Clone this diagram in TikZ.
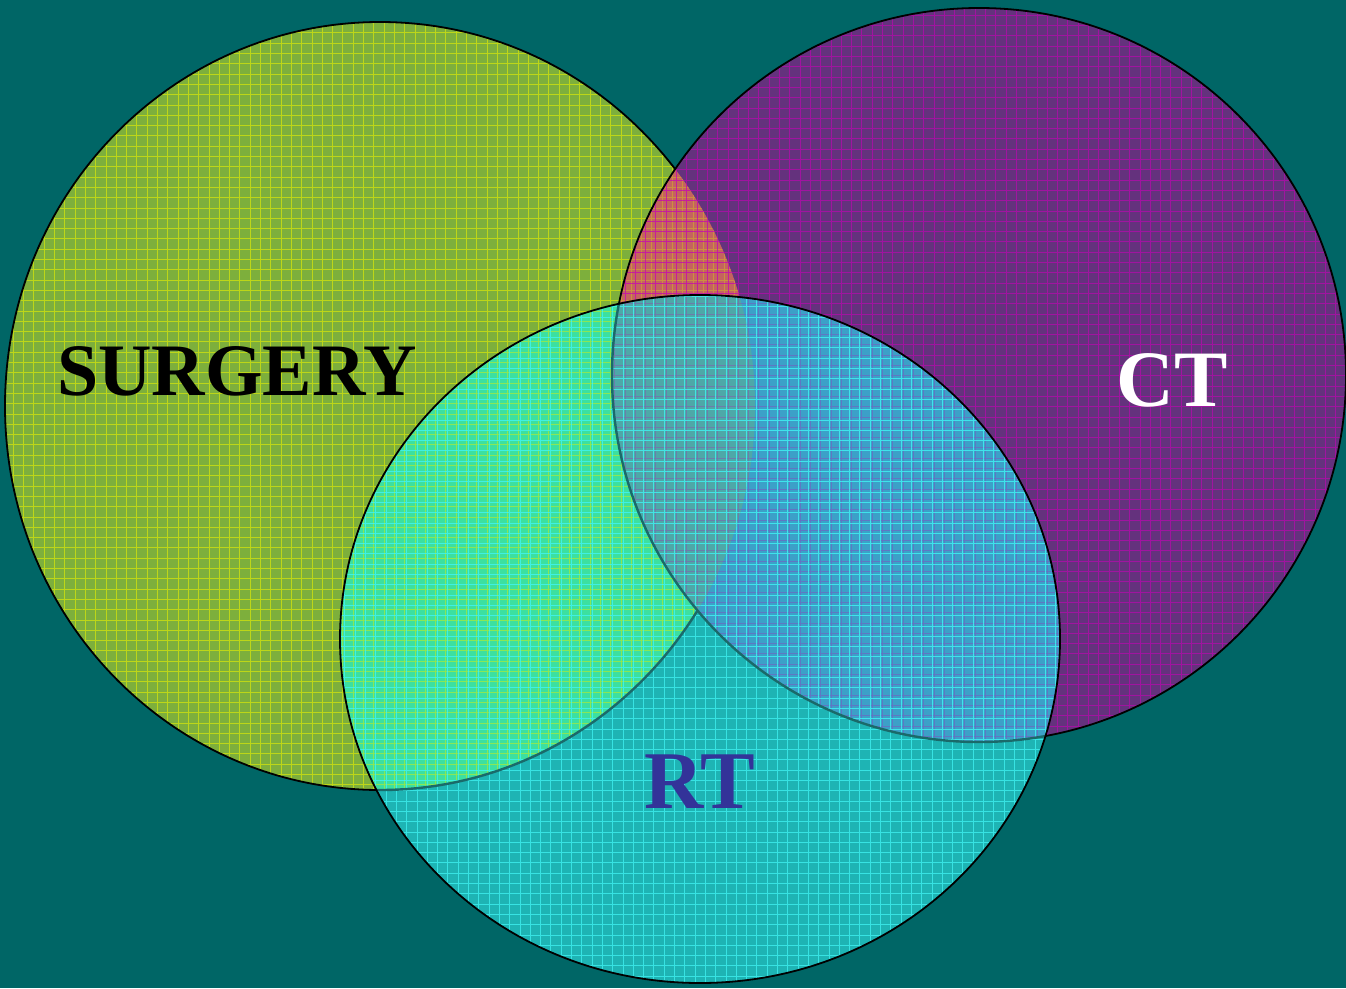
\documentclass[tikz,border=0pt]{standalone}
\usepackage{fontspec}
\setmainfont{Liberation Serif}[BoldFont={Liberation Serif Bold}]
\definecolor{bg}{HTML}{006666}
\definecolor{Sc}{HTML}{7DAF3C}
\definecolor{Sg}{HTML}{E8F000}
\definecolor{Cc}{HTML}{64327D}
\definecolor{Cg}{HTML}{C800B8}
\definecolor{Rc}{HTML}{1EB4B4}
\definecolor{Rg}{HTML}{40F4F4}
\definecolor{SCc}{HTML}{C4645E}
\definecolor{SRc}{HTML}{3CE0A0}
\definecolor{CRc}{HTML}{3CA0C8}
\definecolor{SCRc}{HTML}{4EA8A8}
\definecolor{fb}{HTML}{1A6A6A}
\definecolor{RTtext}{HTML}{333399}
\newcommand\mygrid[4][0.8]{\draw[#2, line width=1pt, opacity=#1, xstep=10.3pt, ystep=10.3pt, shift={(#3,#4)}] (-20,-20) grid (1366,1008);}
\tikzset{
  bord/.style={draw=black, line width=1.8pt},
  fbord/.style={draw=fb, line width=2.4pt},
  lbl/.style={anchor=base, inner sep=0pt}
}
\begin{document}
\begin{tikzpicture}[x=1pt,y=-1pt]
\useasboundingbox (0,0) rectangle (1346,988);
\fill[bg] (0,0) rectangle (1346,988);
% SURGERY circle
\fill[Sc] (380,406) ellipse [x radius=375, y radius=384];
\begin{scope}
  \clip (380,406) ellipse [x radius=375, y radius=384];
  \mygrid[0.6]{Sg}{3}{2}
\end{scope}
\draw[bord] (380,406) ellipse [x radius=375, y radius=384];
% CT circle
\begin{scope}
  \clip (979,375) ellipse [x radius=367, y radius=367];
  \fill[Cc] (0,0) rectangle (1346,988);
  \mygrid[0.6]{Cg}{7}{5}
  \begin{scope}
    \clip (380,406) ellipse [x radius=375, y radius=384];
    \fill[SCc] (0,0) rectangle (1346,988);
    \mygrid[0.3]{Sg}{3}{2}
    \mygrid[0.7]{Cg}{7}{5}
  \end{scope}
\end{scope}
\draw[bord] (979,375) ellipse [x radius=367, y radius=367];
% RT circle
\begin{scope}
  \clip (700,639) ellipse [x radius=360, y radius=344];
  \fill[Rc] (0,0) rectangle (1346,988);
  \mygrid[0.75]{Rg}{5}{8}
  \begin{scope}
    \clip (380,406) ellipse [x radius=375, y radius=384];
    \fill[SRc] (0,0) rectangle (1346,988);
    \mygrid[0.45]{Sg}{3}{2}
    \mygrid[0.8]{Rg}{5}{8}
  \end{scope}
  \draw[fbord] (380,406) ellipse [x radius=375, y radius=384];
  \begin{scope}
    \clip (979,375) ellipse [x radius=367, y radius=367];
    \fill[CRc] (0,0) rectangle (1346,988);
    \mygrid[0.25]{Cg}{7}{5}
    \mygrid[0.8]{Rg}{5}{8}
    \begin{scope}
      \clip (380,406) ellipse [x radius=375, y radius=384];
      \fill[SCRc] (0,0) rectangle (1346,988);
      \mygrid[0.25]{Cg}{7}{5}
      \mygrid[0.8]{Rg}{5}{8}
    \end{scope}
  \end{scope}
  \draw[fbord] (979,375) ellipse [x radius=367, y radius=367];
\end{scope}
\draw[bord] (700,639) ellipse [x radius=360, y radius=344];
% labels
\node[lbl, font=\fontsize{74}{74}\selectfont\bfseries, text=black] (surgery) at (237,395) {SURGERY};
\node[lbl, font=\fontsize{80}{80}\selectfont\bfseries, text=white] (ct) at (1172,406) {CT};
\node[lbl, font=\fontsize{82}{82}\selectfont\bfseries, text=RTtext] (rt) at (700,808) {RT};
\end{tikzpicture}
\end{document}
